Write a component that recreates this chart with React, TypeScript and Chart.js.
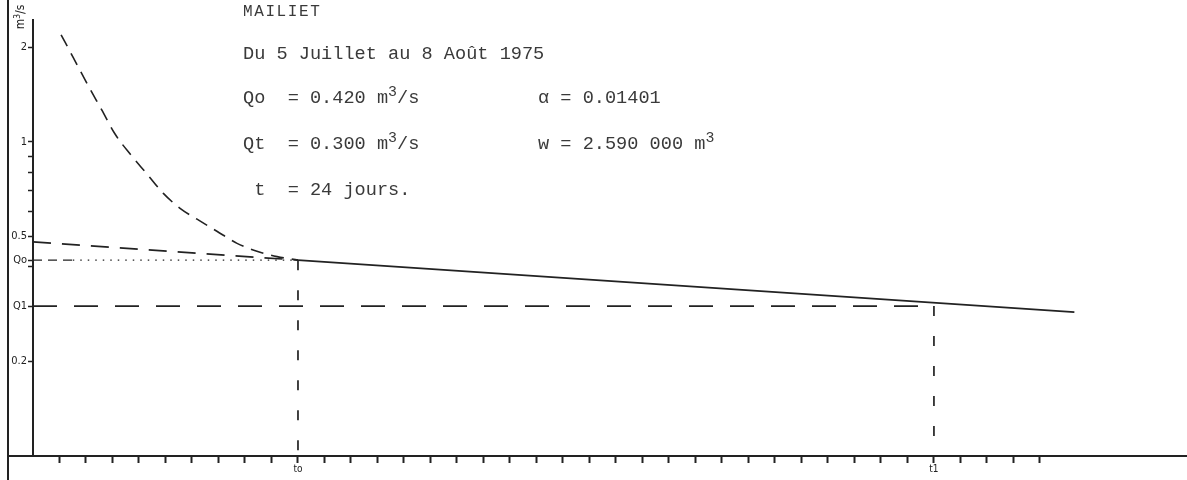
import React, { useEffect, useRef } from 'react';
import { Chart, registerables } from 'chart.js';

Chart.register(...registerables);

// ---- data (days on x, discharge m3/s on log y) ----
const recessionDays = [1.06, 1.51, 2.08, 2.6, 3.09, 3.66, 4.3, 4.91, 5.55, 6.19, 6.94, 7.7, 8.45, 9.21, 10];
const recessionQ = [2.19, 1.86, 1.51, 1.26, 1.06, 0.915, 0.79, 0.686, 0.614, 0.567, 0.519, 0.475, 0.448, 0.431, 0.42];
const extrapDays = [0, 10];
const extrapQ = [0.48, 0.42];
const tailDays = [10, 39.3];
const tailQ = [0.42, 0.287];
const Q0 = 0.42;
const Q1 = 0.3;
const T0 = 10;
const T1 = 34;
const qoDashDays = [0, 1.5];
const qoDotDays = [1.5, 10];

const yTickValues = [2, 1, 0.9, 0.8, 0.7, 0.6, 0.5, 0.42, 0.4, 0.3, 0.2];
const yTickLabels = ['2', '1', '', '', '', '', '0.5', 'Qo', '', 'Q1', '0.2'];
const xTickDays = [1, 2, 3, 4, 5, 6, 7, 8, 9, 10, 11, 12, 13, 14, 15, 16, 17, 18, 19, 20, 21, 22, 23, 24, 25, 26, 27, 28, 29, 30, 31, 32, 33, 34, 35, 36, 37, 38];
const xTickNamedDays = [10, 34];
const xTickNames = ['to', 't1'];

const X_MIN = 0;
const X_MAX = 43.55;
const Y_MIN = 0.1;
const Y_MAX = 2.44;

const titleLine = 'MAILIET';
const periodLine = 'Du 5 Juillet au 8 Août 1975';
const qoLine = 'Qo  = 0.420 m';
const qtLine = 'Qt  = 0.300 m';
const tLine = ' t  = 24 jours.';
const alphaLine = 'α = 0.01401';
const wLine = 'w = 2.590 000 m';

const INK = '#222';
const TYPE = '#3a3a3a';
const AXIS_FONT = "'Liberation Sans Narrow', 'DejaVu Sans Condensed', 'Liberation Sans', sans-serif";
const MONO = "'Liberation Mono', 'DejaVu Sans Mono', monospace";

const pts = (xs: number[], ys: number[]) => xs.map((x, i) => ({ x, y: ys[i] }));

// page frame line on the far left, and the short stretch of the time axis left of the Q axis
const framePlugin = {
  id: 'frameLine',
  afterDraw(chart: any) {
    const { ctx, chartArea } = chart;
    const frameX = 8;
    ctx.save();
    ctx.strokeStyle = INK;
    ctx.lineWidth = 2;
    ctx.beginPath();
    ctx.moveTo(frameX, 0);
    ctx.lineTo(frameX, chart.height);
    ctx.moveTo(frameX, chartArea.bottom);
    ctx.lineTo(chartArea.left, chartArea.bottom);
    ctx.stroke();
    ctx.restore();
  },
};

function line(data: any[], dash: number[], width: number, extra: any = {}) {
  return {
    data,
    showLine: true,
    borderColor: INK,
    borderWidth: width,
    borderDash: dash,
    pointRadius: 0,
    fill: false,
    ...extra,
  };
}

export default function App() {
  const canvasRef = useRef<HTMLCanvasElement | null>(null);

  useEffect(() => {
    document.body.style.margin = '0';
    const canvas = canvasRef.current;
    if (!canvas) return;
    const chart = new Chart(canvas, {
      type: 'scatter',
      data: {
        datasets: [
          line(pts(recessionDays, recessionQ), [13, 8], 1.6, { cubicInterpolationMode: 'monotone' }),
          line(pts(extrapDays, extrapQ), [18, 11], 1.6),
          line(pts(tailDays, tailQ), [], 1.8),
          line(pts(qoDashDays, [Q0, Q0]), [9, 6], 1.4),
          line(pts(qoDotDays, [Q0, Q0]), [1.5, 6], 1.3),
          line(pts([0, T1], [Q1, Q1]), [24, 17], 1.7),
          line(pts([T0, T0], [Q0, Y_MIN]), [10, 20], 1.7),
          line(pts([T1, T1], [Q1, Y_MIN]), [10, 20], 1.7),
        ] as any,
      },
      options: {
        animation: false,
        responsive: true,
        maintainAspectRatio: false,
        layout: { padding: { left: 8, right: 0, top: 20, bottom: 24 } },
        plugins: { legend: { display: false }, tooltip: { enabled: false } },
        elements: { line: { tension: 0 } },
        scales: {
          x: {
            type: 'linear',
            min: X_MIN,
            max: X_MAX,
            position: { y: Y_MIN } as any,
            afterBuildTicks: (s: any) => {
              s.ticks = xTickDays.map((v) => ({ value: v }));
            },
            ticks: {
              autoSkip: false,
              maxRotation: 0,
              padding: 1,
              color: INK,
              font: { size: 10, family: AXIS_FONT },
              callback: (v: any) => {
                const k = xTickNamedDays.indexOf(Number(v));
                return k >= 0 ? xTickNames[k] : '';
              },
            },
            grid: { drawOnChartArea: false, tickLength: 6, tickColor: INK, tickWidth: 2 },
            border: { display: true, color: INK, width: 2 },
          },
          y: {
            type: 'logarithmic',
            min: Y_MIN,
            max: Y_MAX,
            position: 'left',
            afterFit: (s: any) => {
              s.width = 25;
            },
            afterBuildTicks: (s: any) => {
              s.ticks = yTickValues.map((v) => ({ value: v }));
            },
            ticks: {
              autoSkip: false,
              padding: 1,
              color: INK,
              font: { size: 11, family: AXIS_FONT },
              callback: (_v: any, i: number) => yTickLabels[i],
            },
            grid: { drawOnChartArea: false, tickLength: 5, tickColor: INK, tickWidth: 1.5 },
            border: { display: true, color: INK, width: 2 },
          },
        },
      } as any,
      plugins: [framePlugin],
    });
    return () => chart.destroy();
  }, []);

  const textStyle = (left: number, baseline: number): React.CSSProperties => ({
    position: 'absolute',
    left,
    top: baseline - 14.3,
    fontFamily: MONO,
    fontSize: 18.6,
    lineHeight: '18.6px',
    color: TYPE,
    whiteSpace: 'pre',
  });
  const sup: React.CSSProperties = { fontSize: '0.8em', verticalAlign: '0.5em', lineHeight: 0 };

  return (
    <div style={{ position: 'relative', width: 1187, height: 480, background: '#fff' }}>
      <canvas ref={canvasRef} style={{ position: 'absolute', left: 0, top: 0 }} />
      <div style={{ ...textStyle(243, 17), fontSize: 16, letterSpacing: 1.6 }}>{titleLine}</div>
      <div style={textStyle(243, 60)}>{periodLine}</div>
      <div style={textStyle(243, 104)}>
        {qoLine}
        <span style={sup}>3</span>/s
      </div>
      <div style={textStyle(243, 150)}>
        {qtLine}
        <span style={sup}>3</span>/s
      </div>
      <div style={textStyle(243, 196)}>{tLine}</div>
      <div style={textStyle(538, 104)}>{alphaLine}</div>
      <div style={textStyle(538, 150)}>
        {wLine}
        <span style={sup}>3</span>
      </div>
      <div
        style={{
          position: 'absolute',
          left: 20,
          top: 17,
          transform: 'translate(-50%, -50%) rotate(-90deg)',
          fontFamily: AXIS_FONT,
          fontSize: 12,
          color: INK,
          whiteSpace: 'pre',
        }}
      >
        m<span style={{ fontSize: '0.7em', verticalAlign: '0.5em', lineHeight: 0 }}>3</span>/s
      </div>
    </div>
  );
}
